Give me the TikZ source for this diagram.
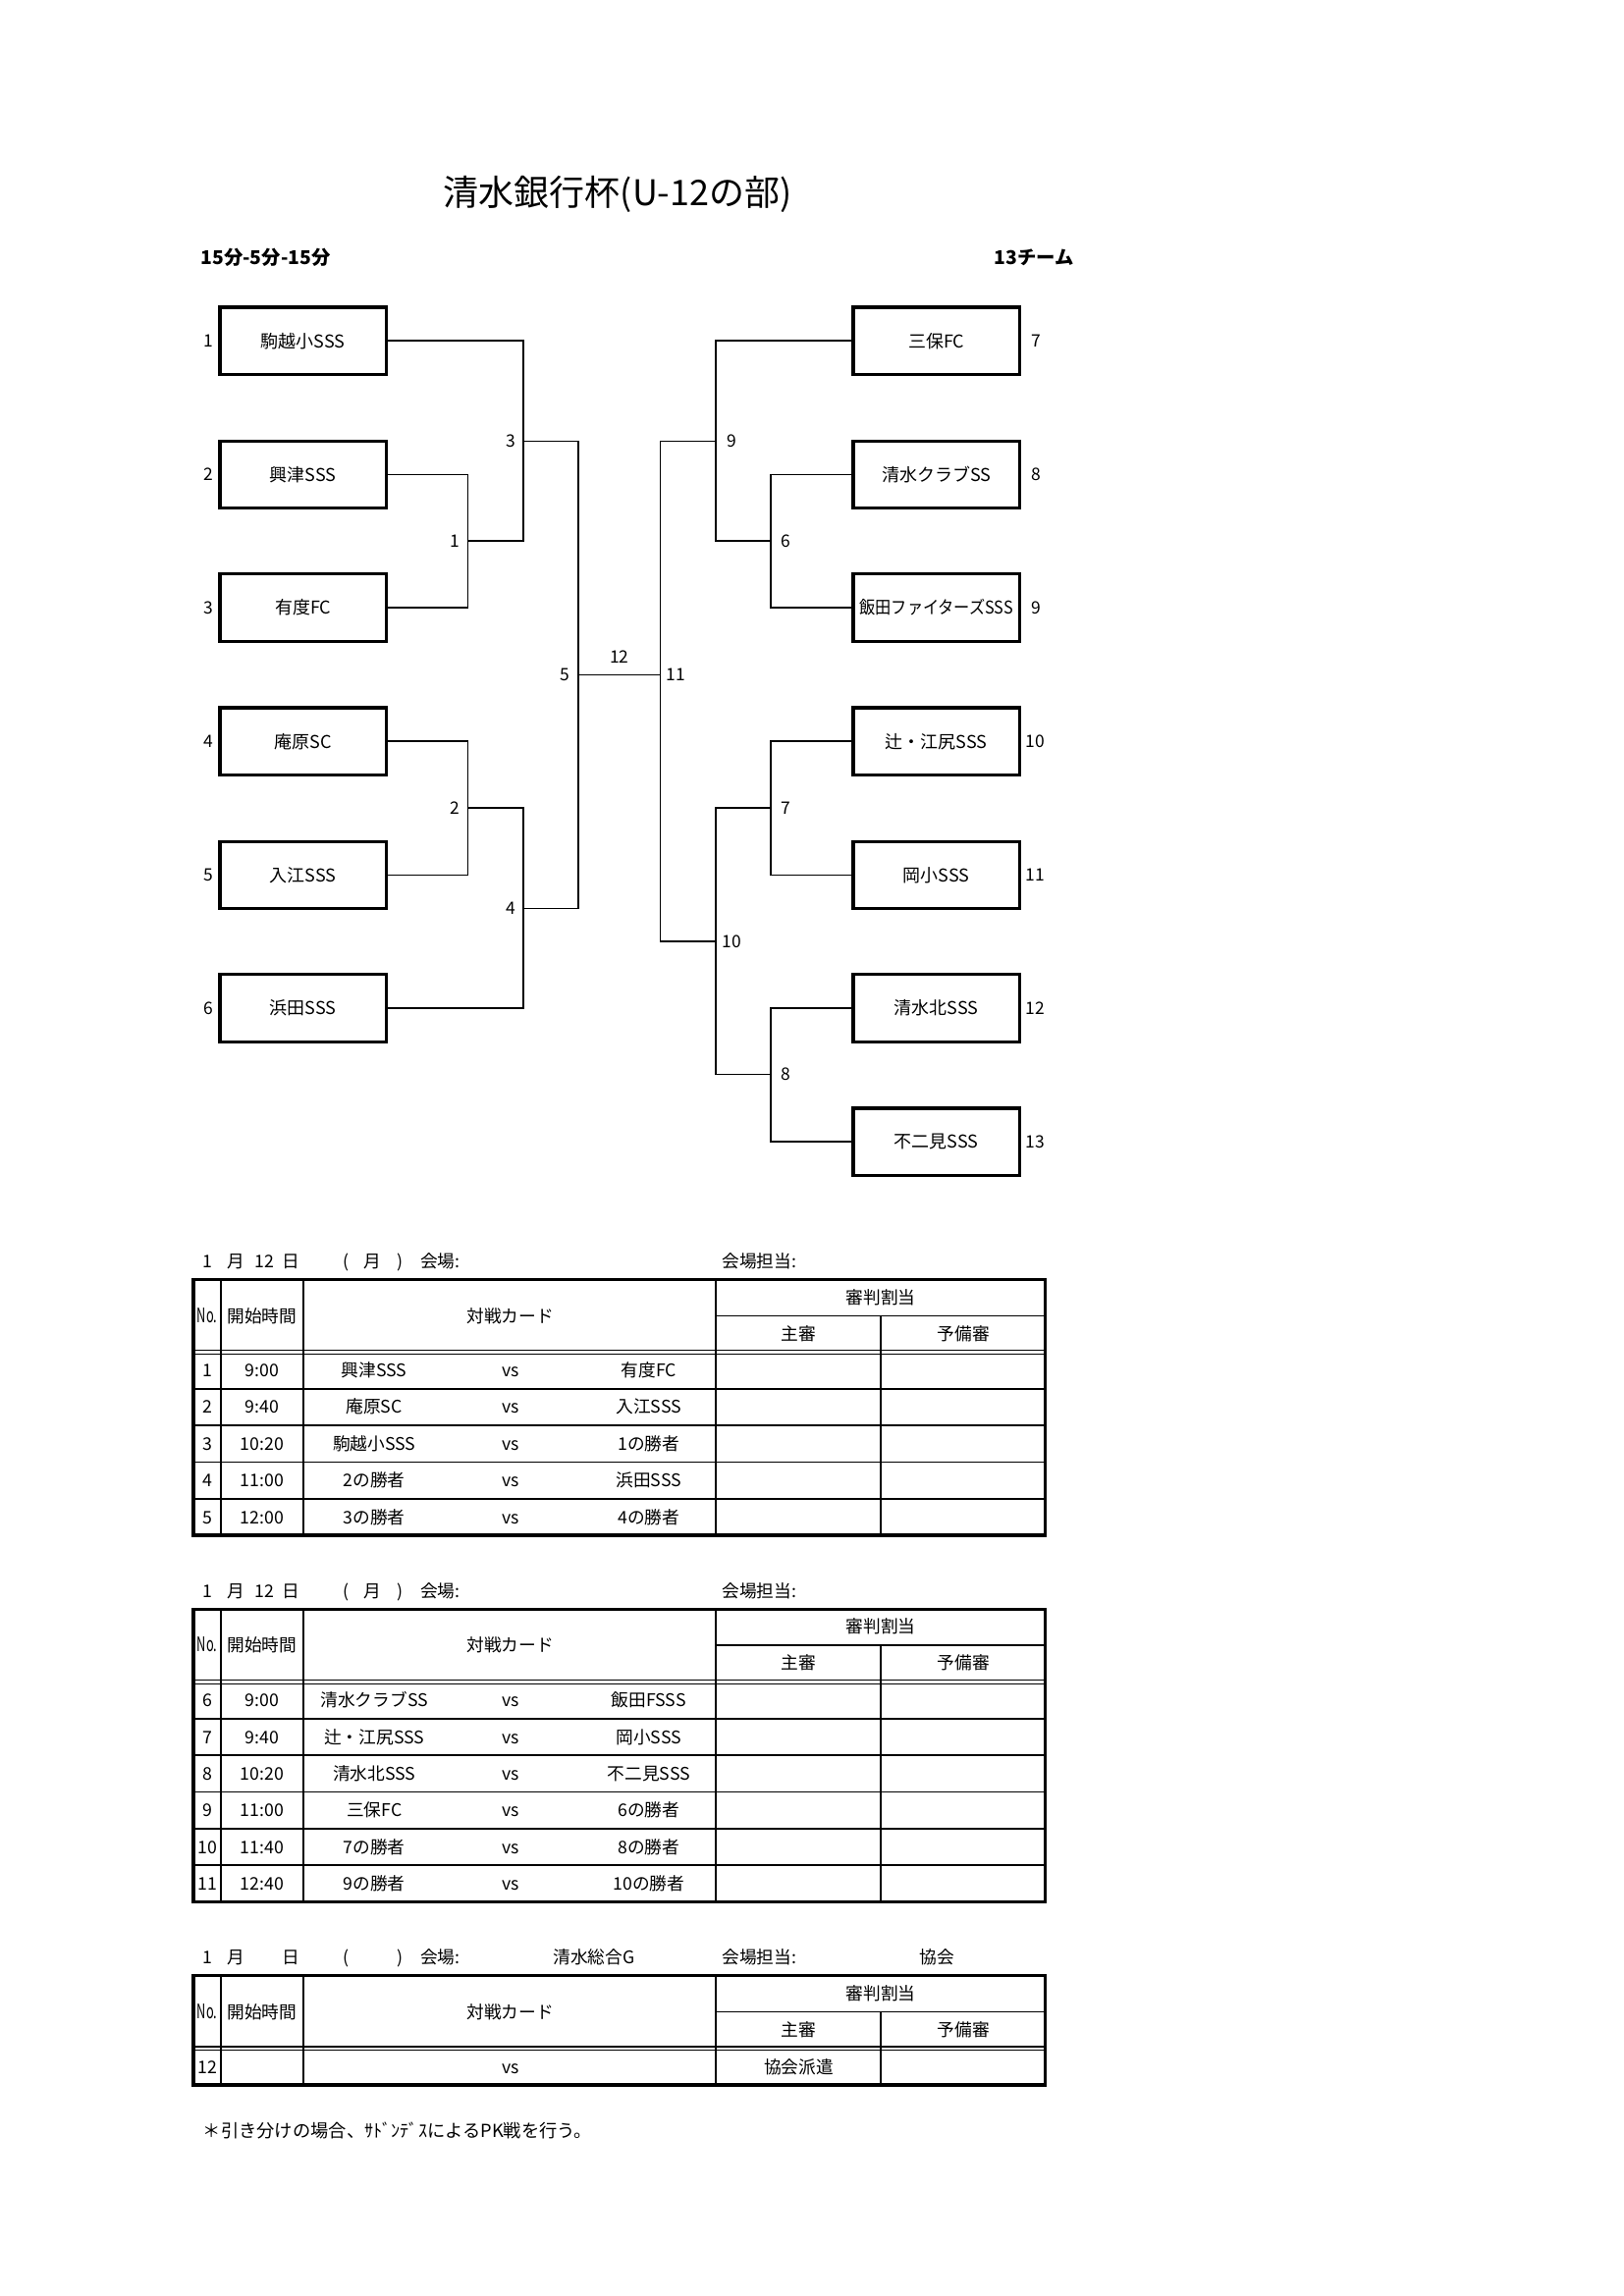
\documentclass[tikz,border=0pt]{standalone}
\usepackage{fontspec}
\usepackage{graphicx}
\setmainfont{Noto Sans CJK JP}
\usetikzlibrary{positioning}

\tikzset{
  team/.style={draw, line width=1.2pt, minimum width=2.15cm, minimum height=0.87cm, inner sep=0pt, font=\fontsize{6.5}{7}\selectfont},
  bline/.style={line width=0.6pt},
  mnum/.style={inner sep=0pt, font=\fontsize{6.3}{7}\selectfont},
  cell/.style={inner sep=0pt, font=\fontsize{6.4}{7}\selectfont, text height=0.8em, text depth=0.12em, yshift=0.035cm},
  frame/.style={line width=1.2pt},
  grid/.style={line width=0.6pt},
  dline/.style={line width=0.45pt},
}

\begin{document}
\begin{tikzpicture} [scale = 1]
\useasboundingbox (0, 0) rectangle (21.0, 29.7);

% title
\node[font=\fontsize{13}{15}\selectfont] (title) at (7.99, 27.19){清水銀行杯(U-12の部)};
\node[inner sep=0pt, anchor=west, font=\bfseries\fontsize{7}{8}\selectfont] (rule) at (2.59, 26.37){15分-5分-15分};
\node[inner sep=0pt, anchor=east, font=\bfseries\fontsize{7}{8}\selectfont] (count) at (13.90, 26.37){13チーム};

% teams
\node[team] (t1) at (3.92, 25.29){駒越小SSS};
\node[team] (t2) at (3.92, 23.56){興津SSS};
\node[team] (t3) at (3.92, 21.84){有度FC};
\node[team] (t4) at (3.92, 20.11){庵原SC};
\node[team] (t5) at (3.92, 18.38){入江SSS};
\node[team] (t6) at (3.92, 16.66){浜田SSS};
\node[team] (t7) at (12.11, 25.29){三保FC};
\node[team] (t8) at (12.11, 23.56){清水クラブSS};
\node[team] (t9) at (12.11, 21.84){\scalebox{0.9}[1]{飯田ファイターズSSS}};
\node[team] (t10) at (12.11, 20.11){辻・江尻SSS};
\node[team] (t11) at (12.11, 18.38){岡小SSS};
\node[team] (t12) at (12.11, 16.66){清水北SSS};
\node[team] (t13) at (12.11, 14.93){不二見SSS};

\node[mnum, left=0.06cm of t1] (n1){1};
\node[mnum, left=0.06cm of t2] (n2){2};
\node[mnum, left=0.06cm of t3] (n3){3};
\node[mnum, left=0.06cm of t4] (n4){4};
\node[mnum, left=0.06cm of t5] (n5){5};
\node[mnum, left=0.06cm of t6] (n6){6};
\node[mnum, right=0.13cm of t7] (n7){7};
\node[mnum, right=0.13cm of t8] (n8){8};
\node[mnum, right=0.13cm of t9] (n9){9};
\node[mnum, right=0.05cm of t10] (n10){10};
\node[mnum, right=0.05cm of t11] (n11){11};
\node[mnum, right=0.05cm of t12] (n12){12};
\node[mnum, right=0.05cm of t13] (n13){13};

% matches
\coordinate (m1) at (6.05, 22.70);
\coordinate (m2) at (6.05, 19.25);
\coordinate (m3) at (6.77, 23.99);
\coordinate (m4) at (6.77, 17.95);
\coordinate (m5) at (7.48, 20.97);
\coordinate (m6) at (9.97, 22.70);
\coordinate (m7) at (9.97, 19.25);
\coordinate (m8) at (9.97, 15.80);
\coordinate (m9) at (9.26, 23.99);
\coordinate (m10) at (9.26, 17.52);
\coordinate (m11) at (8.54, 20.97);

\draw[bline] (t2.east) -| (m1) |- (t3.east);
\draw[bline] (t4.east) -| (m2) |- (t5.east);
\draw[bline] (t1.east) -| (m3) |- (m1);
\draw[bline] (m2) -| (m4) |- (t6.east);
\draw[bline] (m3) -| (m5) |- (m4);
\draw[bline] (t8.west) -| (m6) |- (t9.west);
\draw[bline] (t10.west) -| (m7) |- (t11.west);
\draw[bline] (t12.west) -| (m8) |- (t13.west);
\draw[bline] (t7.west) -| (m9) |- (m6);
\draw[bline] (m7) -| (m10) |- (m8);
\draw[bline] (m9) -| (m11) |- (m10);
\draw[bline] (m5) -- node[mnum, above=0.14cm] (l12){12} (m11);

\node[mnum, left=0.1cm of m1] (l1){1};
\node[mnum, left=0.1cm of m2] (l2){2};
\node[mnum, left=0.1cm of m3] (l3){3};
\node[mnum, left=0.1cm of m4] (l4){4};
\node[mnum, left=0.1cm of m5] (l5){5};
\node[mnum, right=0.13cm of m6] (l6){6};
\node[mnum, right=0.13cm of m7] (l7){7};
\node[mnum, right=0.13cm of m8] (l8){8};
\node[mnum, right=0.13cm of m9] (l9){9};
\node[mnum, right=0.07cm of m10] (l10){10};
\node[mnum, right=0.07cm of m11] (l11){11};

% table 1
\node[cell] (a1) at (2.69, 13.38){1};
\node[cell] (a2) at (3.05, 13.38){月};
\node[cell] (a3) at (3.42, 13.38){12};
\node[cell] (a4) at (3.76, 13.38){日};
\node[cell] (a5) at (4.47, 13.38){(};
\node[cell] (a6) at (4.82, 13.38){月};
\node[cell] (a7) at (5.17, 13.38){)};
\node[cell, anchor=west] (a8) at (5.43, 13.38){会場:};
\node[cell, anchor=west] (a9) at (9.33, 13.38){会場担当:};
\draw[frame] (2.50, 13.15) rectangle (13.52, 9.84);
\draw[grid] (2.86, 13.15) -- (2.86, 9.84);
\draw[grid] (3.92, 13.15) -- (3.92, 9.84);
\draw[grid] (9.26, 13.15) -- (9.26, 9.84);
\draw[grid] (11.39, 12.68) -- (11.39, 9.84);
\draw[grid] (9.26, 12.68) -- (13.52, 12.68);
\draw[dline] (2.50, 12.23) -- (13.52, 12.23);
\draw[dline] (2.50, 12.185) -- (13.52, 12.185);
\draw[grid] (2.50, 11.73) -- (13.52, 11.73);
\draw[grid] (2.50, 11.26) -- (13.52, 11.26);
\draw[grid] (2.50, 10.785) -- (13.52, 10.785);
\draw[grid] (2.50, 10.31) -- (13.52, 10.31);
\node[cell] (ano) at (2.68, 12.68){\scalebox{0.72}[1.15]{No.}};
\node[cell] (astart) at (3.39, 12.68){開始時間};
\node[cell] (acard) at (6.60, 12.68){対戦カード};
\node[cell] (aref) at (11.39, 12.92){審判割当};
\node[cell] (amain) at (10.33, 12.45){主審};
\node[cell] (asub) at (12.46, 12.45){予備審};
\node[cell] (r1n) at (2.68, 11.97){1};
\node[cell] (r1t) at (3.39, 11.97){9:00};
\node[cell] (r1a) at (4.84, 11.97){興津SSS};
\node[cell] (r1v) at (6.60, 11.97){vs};
\node[cell] (r1b) at (8.39, 11.97){有度FC};
\node[cell] (r2n) at (2.68, 11.50){2};
\node[cell] (r2t) at (3.39, 11.50){9:40};
\node[cell] (r2a) at (4.84, 11.50){庵原SC};
\node[cell] (r2v) at (6.60, 11.50){vs};
\node[cell] (r2b) at (8.39, 11.50){入江SSS};
\node[cell] (r3n) at (2.68, 11.02){3};
\node[cell] (r3t) at (3.39, 11.02){10:20};
\node[cell] (r3a) at (4.84, 11.02){駒越小SSS};
\node[cell] (r3v) at (6.60, 11.02){vs};
\node[cell] (r3b) at (8.39, 11.02){1の勝者};
\node[cell] (r4n) at (2.68, 10.55){4};
\node[cell] (r4t) at (3.39, 10.55){11:00};
\node[cell] (r4a) at (4.84, 10.55){2の勝者};
\node[cell] (r4v) at (6.60, 10.55){vs};
\node[cell] (r4b) at (8.39, 10.55){浜田SSS};
\node[cell] (r5n) at (2.68, 10.07){5};
\node[cell] (r5t) at (3.39, 10.07){12:00};
\node[cell] (r5a) at (4.84, 10.07){3の勝者};
\node[cell] (r5v) at (6.60, 10.07){vs};
\node[cell] (r5b) at (8.39, 10.07){4の勝者};

% table 2
\node[cell] (b1) at (2.69, 9.125){1};
\node[cell] (b2) at (3.05, 9.125){月};
\node[cell] (b3) at (3.42, 9.125){12};
\node[cell] (b4) at (3.76, 9.125){日};
\node[cell] (b5) at (4.47, 9.125){(};
\node[cell] (b6) at (4.82, 9.125){月};
\node[cell] (b7) at (5.17, 9.125){)};
\node[cell, anchor=west] (b8) at (5.43, 9.125){会場:};
\node[cell, anchor=west] (b9) at (9.33, 9.125){会場担当:};
\draw[frame] (2.50, 8.886) rectangle (13.52, 5.095);
\draw[grid] (2.86, 8.886) -- (2.86, 5.095);
\draw[grid] (3.92, 8.886) -- (3.92, 5.095);
\draw[grid] (9.26, 8.886) -- (9.26, 5.095);
\draw[grid] (11.39, 8.416) -- (11.39, 5.095);
\draw[grid] (9.26, 8.416) -- (13.52, 8.416);
\draw[dline] (2.50, 7.966) -- (13.52, 7.966);
\draw[dline] (2.50, 7.921) -- (13.52, 7.921);
\draw[grid] (2.50, 7.468) -- (13.52, 7.468);
\draw[grid] (2.50, 6.994) -- (13.52, 6.994);
\draw[grid] (2.50, 6.521) -- (13.52, 6.521);
\draw[grid] (2.50, 6.047) -- (13.52, 6.047);
\draw[grid] (2.50, 5.573) -- (13.52, 5.573);
\node[cell] (bno) at (2.68, 8.416){\scalebox{0.72}[1.15]{No.}};
\node[cell] (bstart) at (3.39, 8.416){開始時間};
\node[cell] (bcard) at (6.60, 8.416){対戦カード};
\node[cell] (bref) at (11.39, 8.656){審判割当};
\node[cell] (bmain) at (10.33, 8.186){主審};
\node[cell] (bsub) at (12.46, 8.186){予備審};
\node[cell] (s6n) at (2.68, 7.706){6};
\node[cell] (s6t) at (3.39, 7.706){9:00};
\node[cell] (s6a) at (4.84, 7.706){清水クラブSS};
\node[cell] (s6v) at (6.60, 7.706){vs};
\node[cell] (s6b) at (8.39, 7.706){飯田FSSS};
\node[cell] (s7n) at (2.68, 7.232){7};
\node[cell] (s7t) at (3.39, 7.232){9:40};
\node[cell] (s7a) at (4.84, 7.232){辻・江尻SSS};
\node[cell] (s7v) at (6.60, 7.232){vs};
\node[cell] (s7b) at (8.39, 7.232){岡小SSS};
\node[cell] (s8n) at (2.68, 6.758){8};
\node[cell] (s8t) at (3.39, 6.758){10:20};
\node[cell] (s8a) at (4.84, 6.758){清水北SSS};
\node[cell] (s8v) at (6.60, 6.758){vs};
\node[cell] (s8b) at (8.39, 6.758){不二見SSS};
\node[cell] (s9n) at (2.68, 6.284){9};
\node[cell] (s9t) at (3.39, 6.284){11:00};
\node[cell] (s9a) at (4.84, 6.284){三保FC};
\node[cell] (s9v) at (6.60, 6.284){vs};
\node[cell] (s9b) at (8.39, 6.284){6の勝者};
\node[cell] (s10n) at (2.68, 5.810){10};
\node[cell] (s10t) at (3.39, 5.810){11:40};
\node[cell] (s10a) at (4.84, 5.810){7の勝者};
\node[cell] (s10v) at (6.60, 5.810){vs};
\node[cell] (s10b) at (8.39, 5.810){8の勝者};
\node[cell] (s11n) at (2.68, 5.336){11};
\node[cell] (s11t) at (3.39, 5.336){12:40};
\node[cell] (s11a) at (4.84, 5.336){9の勝者};
\node[cell] (s11v) at (6.60, 5.336){vs};
\node[cell] (s11b) at (8.39, 5.336){10の勝者};

% table 3
\node[cell] (c1) at (2.69, 4.379){1};
\node[cell] (c2) at (3.05, 4.379){月};
\node[cell] (c4) at (3.76, 4.379){日};
\node[cell] (c5) at (4.47, 4.379){(};
\node[cell] (c7) at (5.17, 4.379){)};
\node[cell, anchor=west] (c8) at (5.43, 4.379){会場:};
\node[cell] (cplace) at (7.68, 4.379){清水総合G};
\node[cell, anchor=west] (c9) at (9.33, 4.379){会場担当:};
\node[cell] (cstaff) at (12.12, 4.379){協会};
\draw[frame] (2.50, 4.145) rectangle (13.52, 2.731);
\draw[grid] (2.86, 4.145) -- (2.86, 2.731);
\draw[grid] (3.92, 4.145) -- (3.92, 2.731);
\draw[grid] (9.26, 4.145) -- (9.26, 2.731);
\draw[grid] (11.39, 3.675) -- (11.39, 2.731);
\draw[grid] (9.26, 3.675) -- (13.52, 3.675);
\draw[dline] (2.50, 3.225) -- (13.52, 3.225);
\draw[dline] (2.50, 3.180) -- (13.52, 3.180);
\node[cell] (cno) at (2.68, 3.675){\scalebox{0.72}[1.15]{No.}};
\node[cell] (cstart) at (3.39, 3.675){開始時間};
\node[cell] (ccard) at (6.60, 3.675){対戦カード};
\node[cell] (cref) at (11.39, 3.915){審判割当};
\node[cell] (cmain) at (10.33, 3.445){主審};
\node[cell] (csub) at (12.46, 3.445){予備審};
\node[cell] (u12n) at (2.68, 2.955){12};
\node[cell] (u12v) at (6.60, 2.955){vs};
\node[cell] (u12r) at (10.33, 2.955){協会派遣};

% note
\node[inner sep=0pt, anchor=west, font=\fontsize{6.6}{8}\selectfont] (note) at (2.62, 2.14){＊引き分けの場合、ｻﾄﾞﾝﾃﾞｽによるPK戦を行う。};
\end{tikzpicture}
\end{document}
